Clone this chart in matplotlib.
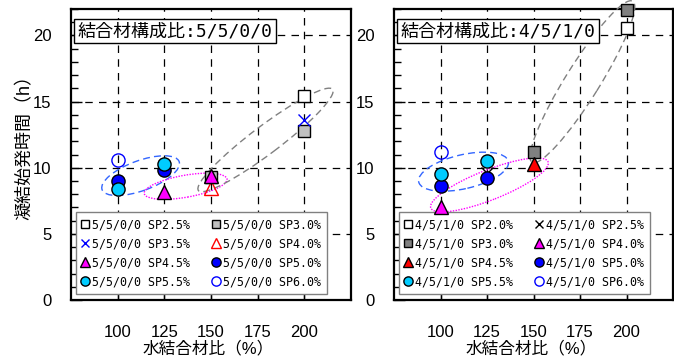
import matplotlib
matplotlib.use('Agg')
import matplotlib.pyplot as plt
from matplotlib.patches import Ellipse
from matplotlib.transforms import ScaledTranslation
from matplotlib.ticker import MultipleLocator

plt.rcParams['font.family'] = ['Liberation Sans', 'Noto Sans CJK JP']
fuente_mono = ['DejaVu Sans Mono', 'Noto Sans CJK JP']

# --- datos ---
x_ticks = [100, 125, 150, 175, 200]

# 結合材構成比 5/5/0/0
izq_nombre = '5/5/0/0'
izq_sp = ['SP2.5%', 'SP3.0%', 'SP3.5%', 'SP4.0%', 'SP4.5%', 'SP5.0%', 'SP5.5%', 'SP6.0%']
izq_x = [[200], [150, 200], [200], [150], [125, 150], [100, 125], [100, 125], [100]]
izq_y = [[15.4], [9.3, 12.8], [13.6], [8.5], [8.2, 9.4], [9.0, 9.8], [8.4, 10.3], [10.6]]

# 結合材構成比 4/5/1/0
der_nombre = '4/5/1/0'
der_sp = ['SP2.0%', 'SP2.5%', 'SP3.0%', 'SP4.0%', 'SP4.5%', 'SP5.0%', 'SP5.5%', 'SP6.0%']
der_x = [[200], [125], [150, 200], [100], [150], [100, 125], [100, 125], [100]]
der_y = [[20.6], [9.6], [11.2, 21.9], [7.0], [10.3], [8.6, 9.2], [9.5, 10.5], [11.2]]

# estilos (marker, relleno, borde, tamano)
izq_estilo = [('s', 'white', 'black', 8.5), ('s', '#C0C0C0', 'black', 8.5),
              ('x', 'none', '#0000FF', 9), ('^', 'none', '#FF0000', 10),
              ('^', '#FF00FF', 'black', 10), ('o', '#0000FF', 'black', 9.5),
              ('o', '#00CCFF', 'black', 9.5), ('o', 'none', '#0000FF', 9.5)]
der_estilo = [('s', 'white', 'black', 8.5), ('x', 'none', 'black', 9),
              ('s', '#808080', 'black', 8.5), ('^', '#FF00FF', 'black', 10),
              ('^', '#FF0000', 'black', 10), ('o', '#0000FF', 'black', 9.5),
              ('o', '#00CCFF', 'black', 9.5), ('o', 'none', '#0000FF', 9.5)]

# elipses: centro (datos), ancho/alto en px, angulo, color, estilo
izq_elipses = [((112.3, 9.4), 82, 30, 20, '#3366FF', (0, (5, 3))),
               ((136.4, 8.6), 84, 22, 10, '#FF00FF', (0, (1, 1))),
               ((179.2, 12.1), 168, 28, 37, '#808080', (0, (5, 3)))]
der_elipses = [((112.4, 9.7), 92, 34, 13, '#3366FF', (0, (5, 3))),
               ((126.3, 8.7), 126, 30, 21.5, '#FF00FF', (0, (1, 1))),
               ((176.3, 16.5), 190, 34, 58, '#808080', (0, (5, 3)))]


def dibujar(ax, fig, nombre, sps, xs, ys, estilos, elipses):
    handles = []
    for sp, x, y, (m, fc, ec, ms) in zip(sps, xs, ys, estilos):
        if m == 'x':
            h, = ax.plot(x, y, linestyle='none', marker=m, color=ec, ms=ms, mew=1.0,
                         label=nombre + ' ' + sp, clip_on=False, zorder=4)
        else:
            h, = ax.plot(x, y, linestyle='none', marker=m, mfc=fc, mec=ec, ms=ms, mew=1.0,
                         label=nombre + ' ' + sp, clip_on=False, zorder=4)
        handles.append(h)

    for (cx, cy), w, hh, ang, col, ls in elipses:
        tr = fig.dpi_scale_trans + ScaledTranslation(cx, cy, ax.transData)
        e = Ellipse((0, 0), w / 100, hh / 100, angle=ang, transform=tr, fill=False,
                    edgecolor=col, linestyle=ls, linewidth=1.0, clip_on=False, zorder=3)
        ax.add_patch(e)

    ax.set_xlim(75, 225)
    ax.set_ylim(0, 22)
    ax.set_xticks(x_ticks)
    ax.set_yticks([0, 5, 10, 15, 20])
    ax.yaxis.set_minor_locator(MultipleLocator(1))
    ax.tick_params(axis='x', direction='in', length=7, width=1, pad=18, labelsize=12)
    ax.tick_params(axis='y', which='major', direction='in', length=8, width=1, pad=14, labelsize=12)
    ax.tick_params(axis='y', which='minor', direction='in', length=5, width=1)
    ax.grid(True, which='major', color='black', linestyle=(0, (6, 5)), linewidth=0.9)
    ax.set_axisbelow(True)
    for s in ax.spines.values():
        s.set_linewidth(1.6)

    ax.text(0.024, 0.955, '結合材構成比:' + nombre, transform=ax.transAxes, fontsize=13,
            family=fuente_mono, va='top', ha='left', zorder=6,
            bbox=dict(boxstyle='square,pad=0.18', fc='white', ec='black', lw=1))

    orden = [0, 2, 4, 6, 1, 3, 5, 7]
    leg = ax.legend([handles[i] for i in orden], [handles[i].get_label() for i in orden],
                    ncol=2, loc='lower left', bbox_to_anchor=(0.018, 0.02), borderaxespad=0,
                    prop={'family': fuente_mono, 'size': 8.4}, markerscale=0.7,
                    handlelength=0.6, handletextpad=0.3, columnspacing=1.9,
                    labelspacing=0.52, borderpad=0.5,
                    fancybox=False, framealpha=1, edgecolor='#808080')
    leg.get_frame().set_linewidth(1.0)
    leg.set_zorder(3.5)

    ax.set_xlabel('水結合材比（%）', fontsize=12)
    ax.xaxis.set_label_coords(0.49, -0.14)


fig = plt.figure(figsize=(6.74, 3.58), dpi=100)
ax1 = fig.add_axes([71 / 674, 58 / 358, 280 / 674, 291 / 358])
ax2 = fig.add_axes([394 / 674, 58 / 358, 279 / 674, 291 / 358])

dibujar(ax1, fig, izq_nombre, izq_sp, izq_x, izq_y, izq_estilo, izq_elipses)
dibujar(ax2, fig, der_nombre, der_sp, der_x, der_y, der_estilo, der_elipses)

ax1.set_ylabel('凝結始発時間（h）', fontsize=13)
ax1.yaxis.set_label_coords(-0.135, 0.54)

fig.savefig('out.png', dpi=100)
plt.close()
